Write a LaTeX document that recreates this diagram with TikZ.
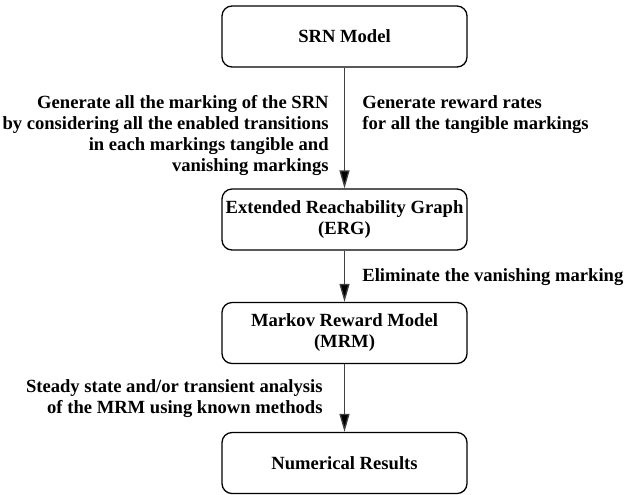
\documentclass[tikz,border=0pt]{standalone}
\usepackage{fontspec}
\setmainfont{Liberation Serif}
\usetikzlibrary{arrows.meta}

\tikzset{
  stagebox/.style={draw=black, line width=0.65pt, rounded corners=5pt,
    minimum width=122.5pt, minimum height=30.5pt, align=center,
    inner sep=0pt},
  flowarrow/.style={draw=black!75, line width=0.65pt,
    -{Triangle[length=9pt,width=5pt,fill=black]}},
  note/.style={inner sep=0pt}
}

\begin{document}
\begin{tikzpicture}[x=0.5pt,y=-0.5pt,
    every node/.style={font=\fontsize{9.3}{10.5}\selectfont\bfseries}]
    \useasboundingbox (0,0) rectangle (624,494);
    % stages
    \node[stagebox] (srn) at (344.5,36.5) {SRN Model};
    \node[stagebox] (erg) at (344.5,219.5) {Extended Reachability Graph\\(ERG)};
    \node[stagebox] (mrm) at (344.5,333) {Markov Reward Model\\(MRM)};
    \node[stagebox] (res) at (344.5,463) {Numerical Results};
    % connectors
    \draw[flowarrow] (srn) -- (erg);
    \draw[flowarrow] (erg) -- (mrm);
    \draw[flowarrow] (mrm) -- (res);
    % notes
    \node[note, anchor=east, align=right] (genmark) at (329,135.5)
      {Generate all the marking of the SRN\\by considering all the enabled transitions\\in each markings tangible and\\vanishing markings};
    \node[note, anchor=west, align=left] (genrate) at (362,114.5)
      {Generate reward rates\\for all the tangible markings};
    \node[note, anchor=west] (elim) at (362,277) {Eliminate the vanishing marking};
    \node[note, anchor=east, align=right] (solve) at (323,398.5)
      {Steady state and/or transient analysis\\of the MRM using known methods};
\end{tikzpicture}
\end{document}
